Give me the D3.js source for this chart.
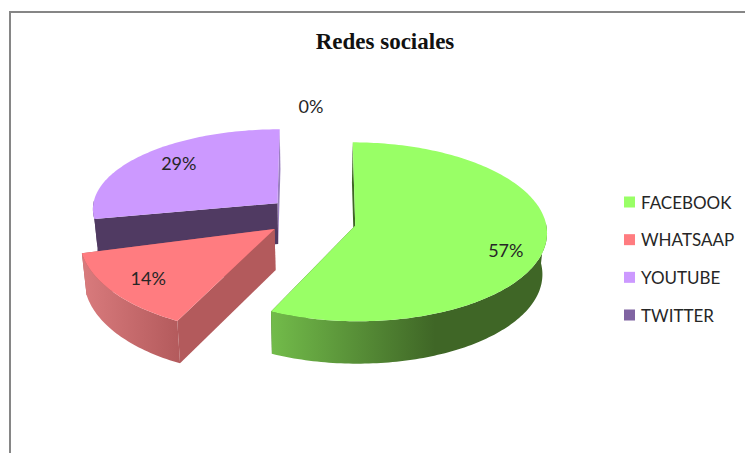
<!DOCTYPE html>
<html><head><meta charset="utf-8">
<script src="https://cdn.jsdelivr.net/npm/d3@7"></script>
<style>html,body{margin:0;background:#fff}svg{display:block}</style>
</head><body><div id="c"></div>
<script>
const categories = ["FACEBOOK","WHATSAAP","YOUTUBE","TWITTER"];
const values = [57,14,29,0];
const title = "Redes sociales";

const colors = ["#99ff66","#ff7c80","#cc99ff","#8064a2"];
const rimStops = [
  {d:[272,435],r:["#72bb4a","#3f6626"]},
  {d:[85,180],r:["#d87a7c","#b35a5c"]},
  {d:[90,280],r:["#503a62","#503a62"]},
  {d:[0,1],r:["#503a62","#503a62"]}
];
const wallStart = ["#3f6626","#b35a5c","#503a62","#503a62"];
const wallEnd   = ["#3f6626","#b35a5c","#9a80c0","#503a62"];
const explode = [[39,16],[-41,23],[-39,-32],[0,0]];
const depthScale = [0.985,1.06,0.9,1];
const widthScale = [1,1.015,0.98,1];
const startShift = [0,0.03,0.05,0];
const labelNudge = [[-1,8],[-31,12],[-10,-8],[-5,-19]];
const labelFrac = [0.8,0.62,0.62,1.12];

const W=745,H=453;
const svg=d3.select("#c").append("svg").attr("width",W).attr("height",H);
const R=190,vx=316,vy=218,k=0.00037,t=0.47,m=0.02,depth=42;
function P(X,Y,h){const s=(1/(1-k*Y))*(1-m*h);return [vx+X*s,vy+(Y*t+depth*h)*s];}
const line=d3.line();
const pie=d3.pie().sort(null).value(d=>d)(values);

svg.append("path").attr("d","M10,453V12H745").attr("fill","none").attr("stroke","#868686").attr("stroke-width",2);

svg.append("text").attr("x",385).attr("y",49).attr("text-anchor","middle")
  .attr("font-family","Liberation Serif").attr("font-weight","bold").attr("font-size",23).attr("fill","#111").text(title);

function rimPt(i,a,h){const [ox,oy]=explode[i];return P(ox+R*Math.sin(a)*widthScale[i],oy-R*Math.cos(a)*depthScale[i],h);}
function apex(i,h){const [ox,oy]=explode[i];return P(ox,oy,h);}

const defs=svg.append("defs");
[3,2,1,0].forEach(i=>{
  const p=pie[i];
  if(p.endAngle-p.startAngle<=0) return;
  const g=svg.append("g");
  const a0=p.startAngle+startShift[i],a1=p.endAngle,n=Math.ceil((a1-a0)/0.02);
  const as=d3.range(n+1).map(j=>a0+(a1-a0)*j/n);
  g.append("path").attr("d",line([apex(i,0),rimPt(i,a1,0),rimPt(i,a1,1),apex(i,1)])+"Z").attr("fill",wallEnd[i]);
  g.append("path").attr("d",line([apex(i,0),rimPt(i,a0,0),rimPt(i,a0,1),apex(i,1)])+"Z").attr("fill",wallStart[i]);
  const grad=defs.append("linearGradient").attr("id","rim"+i).attr("gradientUnits","userSpaceOnUse")
    .attr("x1",rimStops[i].d[0]).attr("x2",rimStops[i].d[1]).attr("y1",0).attr("y2",0);
  grad.append("stop").attr("offset",0).attr("stop-color",rimStops[i].r[0]);
  grad.append("stop").attr("offset",1).attr("stop-color",rimStops[i].r[1]);
  const vis=as.filter(a=>Math.cos(a)<0.05);
  g.append("path").attr("d",line([...vis.map(a=>rimPt(i,a,0)),...vis.slice().reverse().map(a=>rimPt(i,a,1))])+"Z").attr("fill",`url(#rim${i})`);
  g.append("path").attr("d",line([apex(i,0),...as.map(a=>rimPt(i,a,0))])+"Z").attr("fill",colors[i]);
});

pie.forEach((p,i)=>{
  const mid=(p.startAngle+p.endAngle)/2,f=labelFrac[i];
  const [ox,oy]=explode[i];
  const q=P(ox+R*f*Math.sin(mid),oy-R*f*Math.cos(mid),0);
  svg.append("text").attr("x",q[0]+labelNudge[i][0]).attr("y",q[1]+labelNudge[i][1])
    .attr("text-anchor","middle").attr("dominant-baseline","central")
    .attr("font-family","Lato").attr("font-size",18).attr("fill","#262626").text(values[i]+"%");
});

const ly=d3.scalePoint().domain(categories).range([202,315]);
categories.forEach((c,i)=>{
  svg.append("rect").attr("x",624).attr("y",ly(c)-5.5).attr("width",11).attr("height",11).attr("fill",colors[i]);
  svg.append("text").attr("x",641).attr("y",ly(c)).attr("dominant-baseline","central")
    .attr("font-family","Lato").attr("font-size",17).attr("fill","#262626").text(c);
});
</script></body></html>
